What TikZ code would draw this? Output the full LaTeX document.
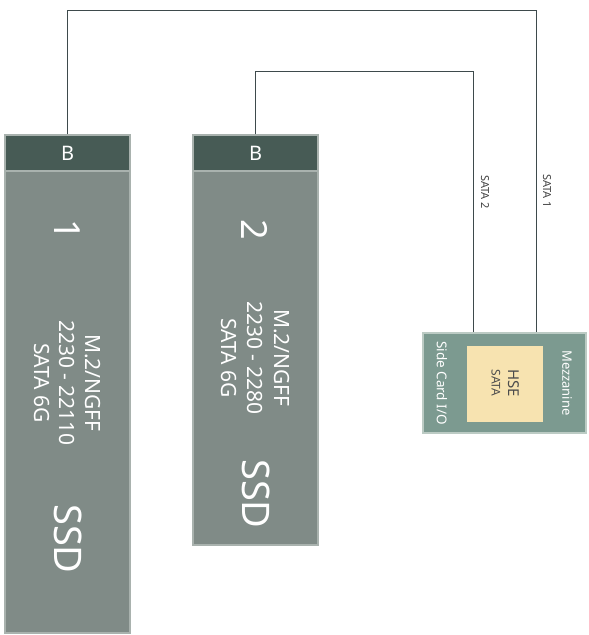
\documentclass[tikz,border=0pt]{standalone}
\usepackage{fontspec}
\setmainfont{Noto Sans}
\usepackage{xcolor}
\definecolor{headgreen}{HTML}{475B55}
\definecolor{ssdgray}{HTML}{808B87}
\definecolor{ssdedge}{HTML}{A9B2AE}
\definecolor{mezzgreen}{HTML}{7C9A90}
\definecolor{mezzedge}{HTML}{BCCBC4}
\definecolor{hseyellow}{HTML}{F7E3B0}
\definecolor{wiregray}{HTML}{3E4A4C}

\tikzset{
    header/.style={draw=ssdedge, line width=1.2pt, fill=headgreen, text=white,
        minimum width=125pt, minimum height=36pt, inner sep=0pt,
        font=\fontsize{20}{22}\selectfont},
    ssdbody/.style={draw=ssdedge, line width=1.2pt, fill=ssdgray,
        minimum width=125pt, inner sep=0pt},
    vtext/.style={rotate=-90, text=white, align=center, inner sep=0pt},
    wire/.style={wiregray, line width=0.8pt},
}

\begin{document}
\begin{tikzpicture}[x=1pt, y=-1pt]
    \useasboundingbox (0,0) rectangle (589,635);

    % SSD 1
    \node[ssdbody, minimum height=462pt] (ssdA) at (67.5,402) {};
    \node[header] (bA) at (67.5,153) {B};
    \node[vtext, font=\fontsize{36}{38}\selectfont] (numA) at (67,230) {1};
    \node[vtext, font=\fontsize{21}{25.5}\selectfont] (specA) at (67,383)
        {M.2/NGFF\\2230 - 22110\\SATA 6G};
    \node[vtext, font=\fontsize{38}{40}\selectfont] (nameA) at (68,539) {SSD};

    % SSD 2
    \node[ssdbody, minimum height=374pt] (ssdB) at (255.5,358) {};
    \node[header] (bB) at (255.5,153) {B};
    \node[vtext, font=\fontsize{36}{38}\selectfont] (numB) at (255,230) {2};
    \node[vtext, font=\fontsize{21}{26.5}\selectfont] (specB) at (255,358)
        {M.2/NGFF\\2230 - 2280\\SATA 6G};
    \node[vtext, font=\fontsize{38}{40}\selectfont] (nameB) at (256,494) {SSD};

    % Mezzanine
    \node[draw=mezzedge, line width=1.5pt, fill=mezzgreen,
        minimum width=163pt, minimum height=100pt, inner sep=0pt] (mezz) at (504.5,383) {};
    \node[fill=hseyellow, minimum width=76pt, minimum height=76pt, inner sep=0pt] (hse) at (505,384) {};
    \node[vtext, text=black!70, font=\fontsize{15}{17}\selectfont] (hseT) at (514,383) {HSE};
    \node[vtext, text=black!70, font=\fontsize{12}{14}\selectfont] (hseS) at (496,383) {SATA};
    \node[vtext, font=\fontsize{13.5}{16}\selectfont] (side) at (442,383) {Side Card I/O};
    \node[vtext, font=\fontsize{13}{16}\selectfont] (mezzT) at (567,383) {Mezzanine};

    % Leitungen
    \coordinate (topA) at (536,10);
    \coordinate (topB) at (473,71);
    \draw[wire] (bA.north) |- (topA) -- (mezz.north -| topA);
    \draw[wire] (bB.north) |- (topB) -- (mezz.north -| topB);
    \node[vtext, text=black!75, font=\fontsize{11}{13}\selectfont] (sataB) at (485,192) {SATA 2};
    \node[vtext, text=black!75, font=\fontsize{11}{13}\selectfont] (sataA) at (547,191) {SATA 1};
\end{tikzpicture}
\end{document}
